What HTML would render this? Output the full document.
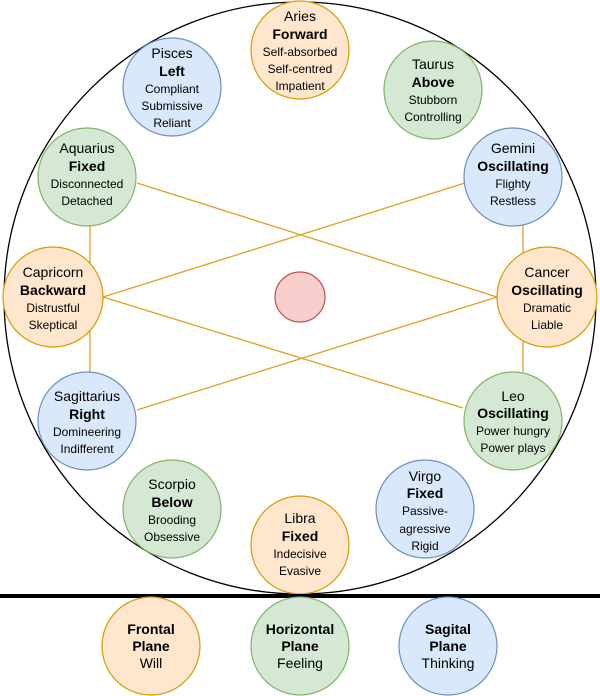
<!DOCTYPE html>
<html><head><meta charset="utf-8"><style>
html,body{margin:0;padding:0;background:#fff;}
svg{display:block;}
text{font-family:"Liberation Sans",Arial,sans-serif;text-anchor:middle;dominant-baseline:central;fill:#000;}
.n{font-size:14px}.b{font-size:14px;font-weight:bold}.d{font-size:12px}
.o{fill:#ffe6cc;stroke:#d79b00;stroke-width:1.2}
.g{fill:#d5e8d4;stroke:#82b366;stroke-width:1.2}
.bl{fill:#dae8fc;stroke:#6c8ebf;stroke-width:1.2}
</style></head><body>
<svg width="600" height="696" viewBox="0 0 600 696" xmlns="http://www.w3.org/2000/svg">
<circle cx="300" cy="298" r="296" fill="#fff" stroke="#000" stroke-width="1.3"/>
<g stroke="#e0a020" stroke-width="1.3" fill="none">
<line x1="137" y1="183" x2="497" y2="297"/>
<line x1="103" y1="297" x2="465" y2="183"/>
<line x1="103" y1="297" x2="463" y2="408"/>
<line x1="137" y1="410" x2="497" y2="297"/>
<line x1="90" y1="222" x2="90" y2="372"/>
<line x1="523" y1="222" x2="523" y2="372"/>
</g>
<circle cx="300" cy="297" r="25" fill="#f8cecc" stroke="#b85450" stroke-width="1.2"/>

<circle class="o" cx="300" cy="50" r="49"/>
<text class="n" x="300" y="16">Aries</text><text class="b" x="300" y="34">Forward</text>
<text class="d" x="300" y="52">Self-absorbed</text><text class="d" x="300" y="69">Self-centred</text><text class="d" x="300" y="86">Impatient</text>

<circle class="bl" cx="172" cy="87" r="49"/>
<text class="n" x="172" y="53">Pisces</text><text class="b" x="172" y="71">Left</text>
<text class="d" x="172" y="89">Compliant</text><text class="d" x="172" y="106">Submissive</text><text class="d" x="172" y="123">Reliant</text>

<circle class="g" cx="433" cy="90" r="49"/>
<text class="n" x="433" y="64">Taurus</text><text class="b" x="433" y="82">Above</text>
<text class="d" x="433" y="100">Stubborn</text><text class="d" x="433" y="117">Controlling</text>

<circle class="g" cx="87" cy="177" r="49"/>
<text class="n" x="87" y="148">Aquarius</text><text class="b" x="87" y="166">Fixed</text>
<text class="d" x="87" y="184">Disconnected</text><text class="d" x="87" y="201">Detached</text>

<circle class="bl" cx="513" cy="177" r="49"/>
<text class="n" x="513" y="148">Gemini</text><text class="b" x="513" y="166">Oscillating</text>
<text class="d" x="513" y="184">Flighty</text><text class="d" x="513" y="201">Restless</text>

<circle class="o" cx="53" cy="297" r="50"/>
<text class="n" x="53" y="272">Capricorn</text><text class="b" x="53" y="290">Backward</text>
<text class="d" x="53" y="308">Distrustful</text><text class="d" x="53" y="325">Skeptical</text>

<circle class="o" cx="547" cy="297" r="50"/>
<text class="n" x="547" y="272">Cancer</text><text class="b" x="547" y="290">Oscillating</text>
<text class="d" x="547" y="308">Dramatic</text><text class="d" x="547" y="325">Liable</text>

<circle class="bl" cx="87" cy="421" r="49"/>
<text class="n" x="87" y="396">Sagittarius</text><text class="b" x="87" y="414">Right</text>
<text class="d" x="87" y="432">Domineering</text><text class="d" x="87" y="449">Indifferent</text>

<circle class="g" cx="513" cy="421" r="49"/>
<text class="n" x="513" y="396">Leo</text><text class="b" x="513" y="413">Oscillating</text>
<text class="d" x="513" y="431">Power hungry</text><text class="d" x="513" y="448">Power plays</text>

<circle class="g" cx="172" cy="509" r="49"/>
<text class="n" x="172" y="484">Scorpio</text><text class="b" x="172" y="502">Below</text>
<text class="d" x="172" y="520">Brooding</text><text class="d" x="172" y="537">Obsessive</text>

<circle class="bl" cx="425" cy="509" r="49"/>
<text class="n" x="425" y="476">Virgo</text><text class="b" x="425" y="493">Fixed</text>
<text class="d" x="425" y="511">Passive-</text><text class="d" x="425" y="529">agressive</text><text class="d" x="425" y="546">Rigid</text>

<circle class="o" cx="300" cy="545" r="49"/>
<text class="n" x="300" y="518">Libra</text><text class="b" x="300" y="536">Fixed</text>
<text class="d" x="300" y="554">Indecisive</text><text class="d" x="300" y="571">Evasive</text>

<line x1="0" y1="596" x2="600" y2="596" stroke="#000" stroke-width="4"/>

<circle class="o" cx="151" cy="646" r="49"/>
<text class="b" x="151" y="629">Frontal</text><text class="b" x="151" y="646">Plane</text><text class="n" x="151" y="663">Will</text>
<circle class="g" cx="300" cy="646" r="49"/>
<text class="b" x="300" y="629">Horizontal</text><text class="b" x="300" y="646">Plane</text><text class="n" x="300" y="663">Feeling</text>
<circle class="bl" cx="448" cy="646" r="49"/>
<text class="b" x="448" y="629">Sagital</text><text class="b" x="448" y="646">Plane</text><text class="n" x="448" y="663">Thinking</text>
</svg>
</body></html>
